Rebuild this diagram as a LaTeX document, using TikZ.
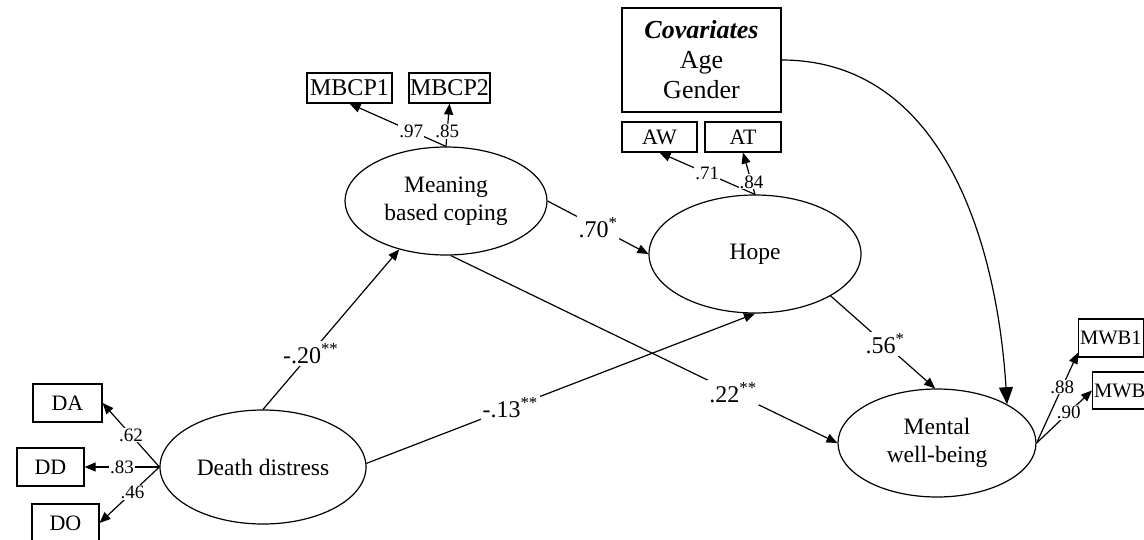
\documentclass[tikz,border=0pt]{standalone}
\usepackage{fontspec}
\setmainfont{Liberation Serif}
\usetikzlibrary{arrows.meta,shapes.geometric}
\begin{document}
\begin{tikzpicture}[x=1pt,y=-1pt,
  lat/.style={ellipse, draw, line width=1.2pt, inner sep=0pt, align=center, font=\fontsize{23.5}{28}\selectfont},
  obs/.style={rectangle, draw, line width=1.2pt, inner sep=0pt, font=\fontsize{22}{25}\selectfont},
  arr/.style={line width=1.2pt, -{Triangle[length=11pt,width=9pt]}},
  bigarr/.style={line width=1.2pt, -{Triangle[length=17pt,width=14pt]}},
  ld/.style={fill=white, inner sep=1pt, font=\fontsize{19}{22}\selectfont},
  coef/.style={fill=white, inner sep=2pt, font=\fontsize{24}{28}\selectfont},
]
\useasboundingbox (0,0) rectangle (1144,539);
\clip (0,0) rectangle (1144,539);

% latent variables
\node[lat, minimum width=206pt, minimum height=114pt] (dd) at (263,467) {Death distress};
\node[lat, minimum width=202pt, minimum height=108pt] (mbc) at (446,201) {Meaning\\based coping};
\node[lat, minimum width=212pt, minimum height=118pt] (hope) at (755,254) {Hope};
\node[lat, minimum width=198pt, minimum height=108pt] (mwb) at (937,443) {Mental\\well-being};

% observed indicators
\node[obs, minimum width=69pt, minimum height=38pt] (bDA) at (67.5,403) {DA};
\node[obs, minimum width=67pt, minimum height=38pt] (bDD) at (50.5,467) {DD};
\node[obs, minimum width=67pt, minimum height=38pt] (bDO) at (65.5,523) {DO};
\node[obs, minimum width=85pt, minimum height=30pt, font=\fontsize{24}{26}\selectfont] (bM1) at (349.5,88) {MBCP1};
\node[obs, minimum width=81pt, minimum height=30pt, font=\fontsize{24}{26}\selectfont] (bM2) at (449.5,88) {MBCP2};
\node[obs, minimum width=75pt, minimum height=30pt] (bAW) at (659.5,137) {AW};
\node[obs, minimum width=76pt, minimum height=30pt] (bAT) at (743,137) {AT};
\node[obs, anchor=west, minimum height=38pt, inner xsep=1.5pt, font=\fontsize{20.5}{24}\selectfont] (bW1) at (1078,338) {MWB1};
\node[obs, anchor=west, minimum height=37pt, inner xsep=1.5pt, font=\fontsize{20.5}{24}\selectfont] (bW2) at (1092,390.5) {MWB2};
\node[obs, minimum width=159pt, minimum height=104pt, align=center, font=\fontsize{26}{30}\selectfont] (cov) at (701.5,60) {\textbf{\textit{Covariates}}\\Age\\Gender};

% measurement paths
\draw[arr] (dd.west) -- (bDA.east) node[ld,pos=0.5]{.62};
\draw[arr] (dd.west) -- (bDD.east) node[ld,pos=0.5]{.83};
\draw[arr] (dd.west) -- (bDO.east) node[ld,pos=0.45]{.46};
\draw[arr] (mbc.north) -- (bM1.south) node[ld,pos=0.36]{.97};
\draw[arr] (mbc.north) -- (bM2.south) node[ld,pos=0.35]{.85};
\draw[arr] (hope.north) -- (bAW.south) node[ld,pos=0.5]{.71};
\draw[arr] (hope.north) -- (bAT.south) node[ld,pos=0.3]{.84};
\draw[arr] (mwb.east) -- ([yshift=5pt]bW1.south west) node[ld,pos=0.62]{.88};
\draw[arr] (mwb.east) -- (bW2.west) node[ld,pos=0.58]{.90};

% structural paths
\draw[arr] (dd.90) -- (mbc.226) node[coef,pos=0.35]{-.20\textsuperscript{**}};
\draw[arr] (dd.2) -- (hope.270) node[coef,pos=0.37]{-.13\textsuperscript{**}};
\draw[arr] (mbc.0) -- (hope.180) node[coef,pos=0.5]{.70\textsuperscript{*}};
\draw[arr] (mbc.275) -- (mwb.180) node[coef,pos=0.73]{.22\textsuperscript{**}};
\draw[arr] (hope.331) -- (mwb.92) node[coef,pos=0.52]{.56\textsuperscript{*}};
\draw[bigarr] (cov.east) .. controls (943,60) and (997,243) .. (mwb.29);
\end{tikzpicture}
\end{document}
